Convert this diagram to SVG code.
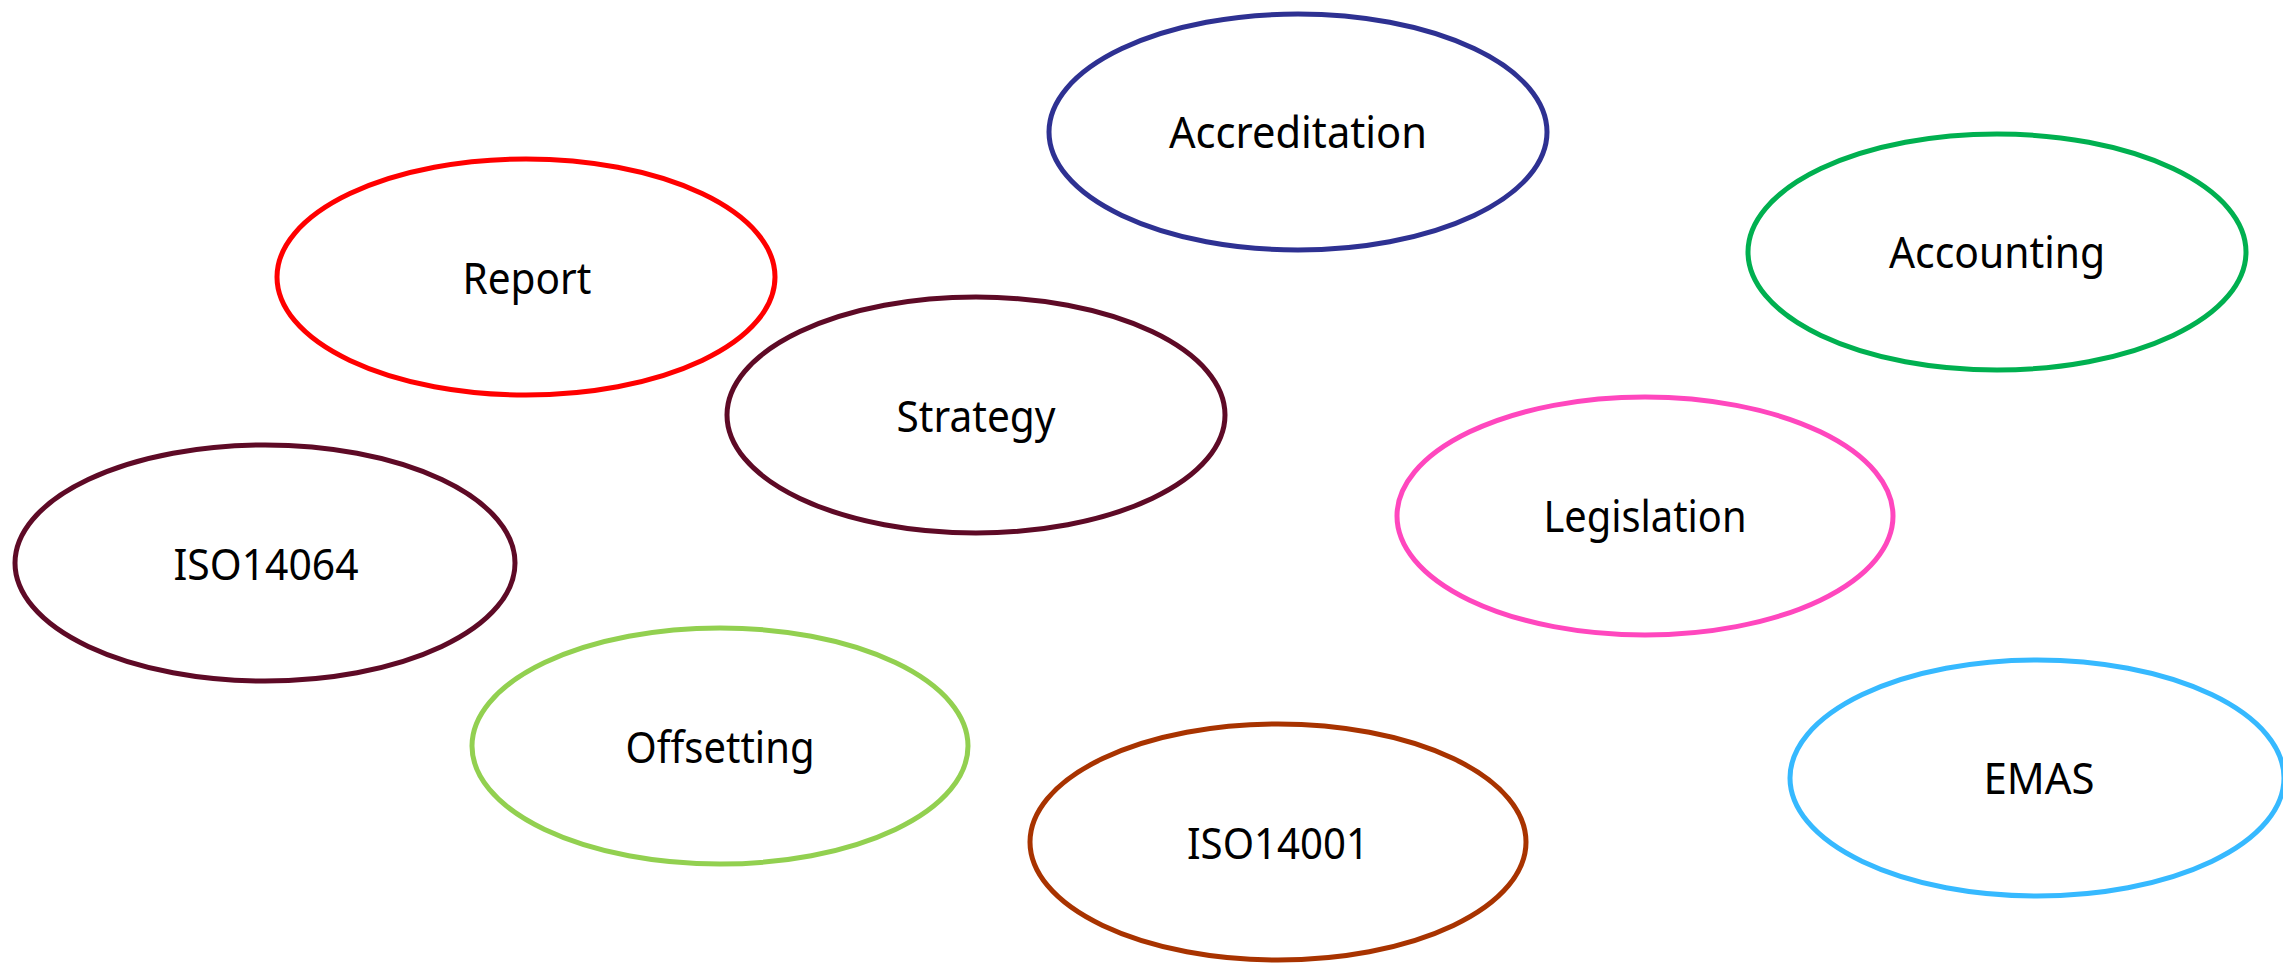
<svg xmlns="http://www.w3.org/2000/svg" width="2283" height="963" viewBox="0 0 2283 963">
<style>
.n ellipse{fill:#FFFFFF;stroke-width:5}
.n text{font-family:"Noto Sans","Open Sans","DejaVu Sans",sans-serif;font-size:43px;fill:#000000;text-anchor:middle}
</style>
<rect width="2283" height="963" fill="#FFFFFF"/>
<g id="connectors"></g>
<g id="accreditation" class="n"><ellipse cx="1298" cy="132" rx="249" ry="118" stroke="#2E3192"/><text x="1298" y="148" textLength="258" lengthAdjust="spacingAndGlyphs">Accreditation</text></g>
<g id="report" class="n"><ellipse cx="526" cy="277" rx="249" ry="118" stroke="#FF0000"/><text x="527" y="294" textLength="129" lengthAdjust="spacingAndGlyphs">Report</text></g>
<g id="accounting" class="n"><ellipse cx="1997" cy="252" rx="249" ry="118" stroke="#00B050"/><text x="1997" y="268" textLength="216" lengthAdjust="spacingAndGlyphs">Accounting</text></g>
<g id="strategy" class="n"><ellipse cx="976" cy="415" rx="249" ry="118" stroke="#5E0A26"/><text x="976" y="432" textLength="159" lengthAdjust="spacingAndGlyphs">Strategy</text></g>
<g id="legislation" class="n"><ellipse cx="1645" cy="516" rx="248" ry="119" stroke="#FF47BE"/><text x="1645" y="532" textLength="203" lengthAdjust="spacingAndGlyphs">Legislation</text></g>
<g id="iso14064" class="n"><ellipse cx="265" cy="563" rx="250" ry="118" stroke="#5E0A26"/><text x="266" y="580" textLength="185" lengthAdjust="spacingAndGlyphs">ISO14064</text></g>
<g id="offsetting" class="n"><ellipse cx="720" cy="746" rx="248" ry="118" stroke="#92D050"/><text x="720" y="763" textLength="189" lengthAdjust="spacingAndGlyphs">Offsetting</text></g>
<g id="iso14001" class="n"><ellipse cx="1278" cy="842" rx="248" ry="118" stroke="#A83300"/><text x="1278" y="859" textLength="182" lengthAdjust="spacingAndGlyphs">ISO14001</text></g>
<g id="emas" class="n"><ellipse cx="2037" cy="778" rx="247" ry="118" stroke="#36B9FF"/><text x="2039" y="794" textLength="111" lengthAdjust="spacingAndGlyphs">EMAS</text></g>
</svg>
